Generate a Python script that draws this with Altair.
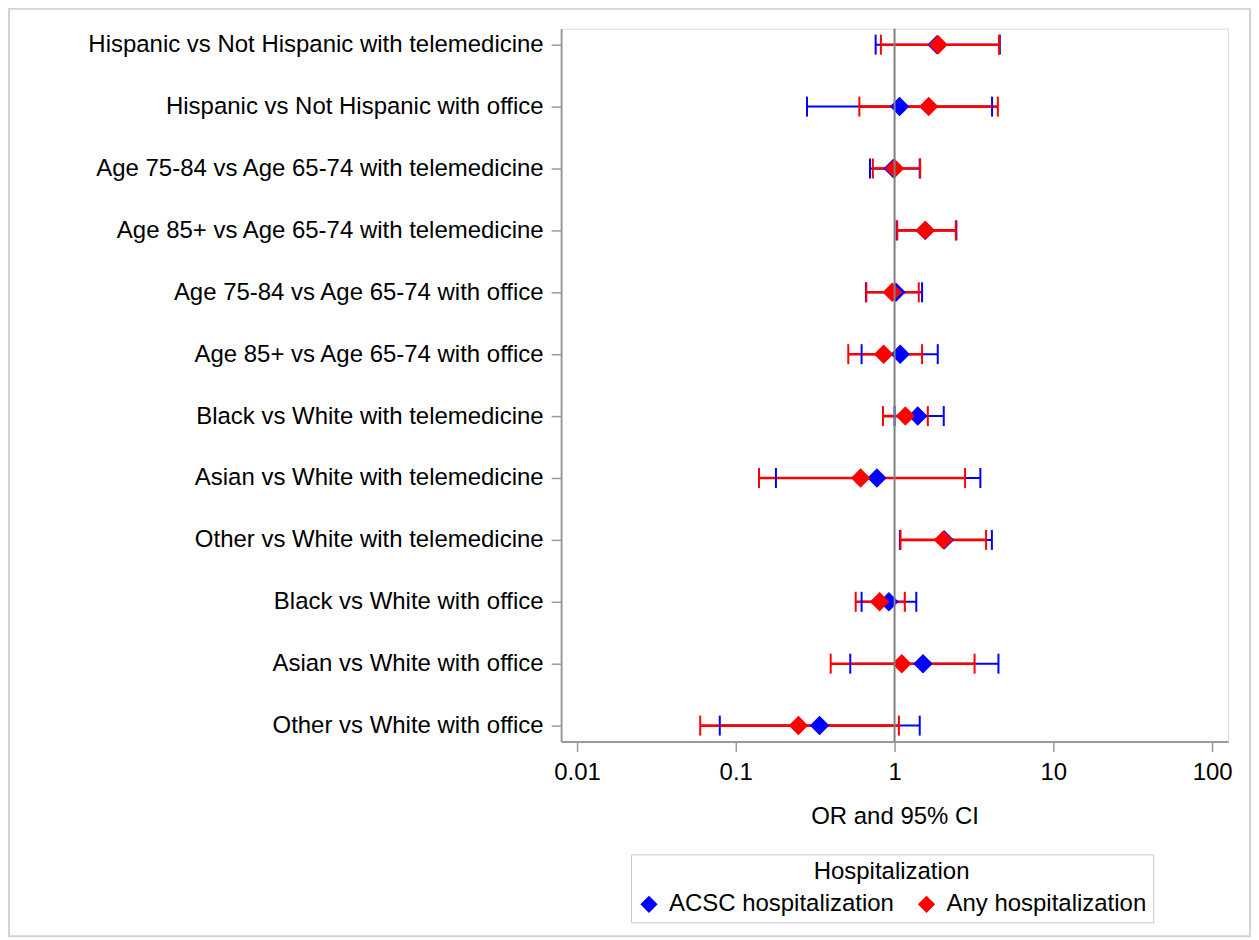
import altair as alt
import pandas as pd

categories = [
    "Hispanic vs Not Hispanic with telemedicine",
    "Hispanic vs Not Hispanic with office",
    "Age 75-84 vs Age 65-74 with telemedicine",
    "Age 85+ vs Age 65-74 with telemedicine",
    "Age 75-84 vs Age 65-74 with office",
    "Age 85+ vs Age 65-74 with office",
    "Black vs White with telemedicine",
    "Asian vs White with telemedicine",
    "Other vs White with telemedicine",
    "Black vs White with office",
    "Asian vs White with office",
    "Other vs White with office",
]

outcomes = ["ACSC hospitalization", "Any hospitalization"]
colors = ["#0000FF", "#FF0000"]

acsc_or = [1.85, 1.075, 0.98, 1.56, 1.02, 1.085, 1.40, 0.774, 2.06, 0.921, 1.51, 0.337]
acsc_lo = [0.76, 0.281, 0.70, 1.03, 0.66, 0.62, 1.00, 0.179, 1.08, 0.62, 0.526, 0.0793]
acsc_hi = [4.60, 4.11, 1.44, 2.45, 1.49, 1.87, 2.04, 3.47, 4.10, 1.37, 4.51, 1.44]

any_or = [1.88, 1.64, 1.00, 1.56, 0.967, 0.853, 1.17, 0.611, 2.03, 0.805, 1.11, 0.248]
any_lo = [0.82, 0.60, 0.73, 1.04, 0.664, 0.511, 0.845, 0.140, 1.09, 0.569, 0.396, 0.0597]
any_hi = [4.55, 4.47, 1.45, 2.43, 1.42, 1.49, 1.62, 2.78, 3.77, 1.16, 3.19, 1.065]

rows = []
for name, ors, los, his in [
    (outcomes[0], acsc_or, acsc_lo, acsc_hi),
    (outcomes[1], any_or, any_lo, any_hi),
]:
    for c, o, l, h in zip(categories, ors, los, his):
        rows.append({"category": c, "outcome": name, "or": o, "lo": l, "hi": h})
df = pd.DataFrame(rows)

FONT = "Liberation Sans"
FS = 24

xscale = alt.Scale(type="log", domain=[10 ** -2.1, 10 ** 2.1], nice=False)
yscale = alt.Scale(type="point", domain=categories, padding=16 / 62)
cscale = alt.Scale(domain=outcomes, range=colors)

xaxis = alt.Axis(
    values=[0.01, 0.1, 1, 10, 100], format="~g", title="OR and 95% CI",
    grid=False, tickSize=10, tickColor="#9a9a9a", domainColor="#9a9a9a",
    domainWidth=2, tickWidth=1.5, labelFontSize=FS, labelFont=FONT, labelColor="#000000",
    labelPadding=9, titleFontSize=FS, titleFont=FONT, titleFontWeight="normal",
    titleColor="#000000", titlePadding=20,
)
yaxis = alt.Axis(
    title=None, grid=False, tickSize=10, tickColor="#9a9a9a", domainColor="#9a9a9a",
    domainWidth=2, tickWidth=1.5, labelFontSize=FS, labelFont=FONT, labelColor="#000000",
    labelPadding=8, labelLimit=0,
)

base = alt.Chart(df)
Y = alt.Y("category:N", scale=yscale, axis=yaxis, sort=categories)


def line_layer(outcome, color, width):
    return base.transform_filter(alt.datum.outcome == outcome).mark_rule(
        strokeWidth=width, color=color
    ).encode(x=alt.X("lo:Q", scale=xscale, axis=xaxis), x2="hi:Q", y=Y)


def cap_layer(outcome, color):
    return base.transform_filter(alt.datum.outcome == outcome).transform_fold(
        ["lo", "hi"], as_=["end", "xv"]
    ).mark_tick(size=20, thickness=2, orient="vertical", opacity=1, color=color).encode(
        x=alt.X("xv:Q", scale=xscale, axis=xaxis), y=Y
    )


lines_b = line_layer(outcomes[0], colors[0], 2)
lines_r = line_layer(outcomes[1], colors[1], 2.6)
caps_b = cap_layer(outcomes[0], colors[0])
caps_r = cap_layer(outcomes[1], colors[1])

points = base.mark_point(shape="diamond", filled=True, size=380, opacity=1).encode(
    x=alt.X("or:Q", scale=xscale, axis=xaxis),
    y=Y,
    color=alt.Color(
        "outcome:N", scale=cscale,
        legend=alt.Legend(
            title="Hospitalization", orient="none", legendX=70, legendY=827,
            direction="horizontal", titleAnchor="middle", titleFontSize=FS,
            titleFont=FONT, titleFontWeight="normal", titleColor="#000000",
            labelFontSize=FS, labelFont=FONT, labelColor="#000000",
            symbolType="diamond", symbolSize=300, symbolStrokeWidth=0,
            strokeColor="#c8c8c8", padding=6, columnPadding=20, labelOffset=8,
            titlePadding=8, labelLimit=0,
        ),
    ),
)

refline = alt.Chart(pd.DataFrame({"v": [1]})).mark_rule(
    color="#808080", strokeWidth=2
).encode(x=alt.X("v:Q", scale=xscale, axis=xaxis))

border = alt.Chart(pd.DataFrame({"a": [0]})).mark_rect(
    fill=None, stroke="#d3d3d3", strokeWidth=2
).encode(
    x=alt.value(-553), x2=alt.value(690), y=alt.value(-20), y2=alt.value(909)
)

chart = alt.layer(border, lines_b, lines_r, caps_b, caps_r, points, refline).properties(
    width=668, height=714,
    padding={"left": 554, "top": 20, "right": 23, "bottom": 196},
    autosize=alt.AutoSizeParams(type="none"),
).configure_view(stroke="#9a9a9a", strokeWidth=2).configure(background="white")

chart.save("out.html", embed_options={"renderer": "svg", "actions": False})
